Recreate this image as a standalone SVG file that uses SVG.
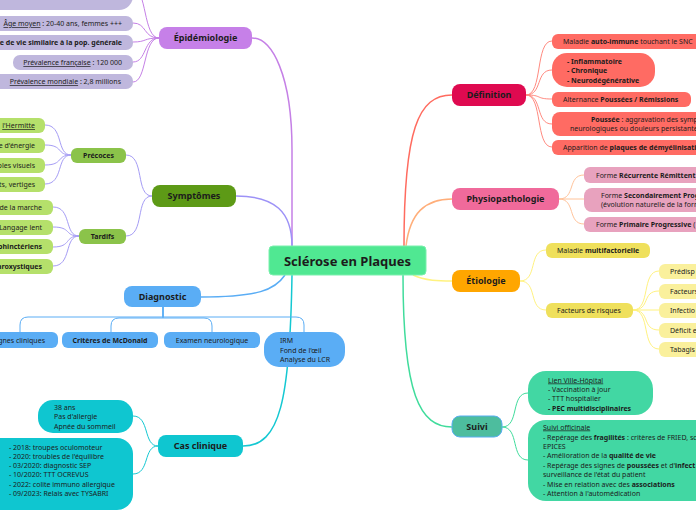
<svg xmlns="http://www.w3.org/2000/svg" width="696" height="520" viewBox="0 0 696 520">
<style>
text{font-family:"Noto Sans","Open Sans","DejaVu Sans",sans-serif;fill:#1c1c1c;font-size:7px}
.m{font-size:9px;font-weight:bold;text-anchor:middle}
.b{font-weight:bold}
.u{text-decoration:underline}
.c{fill:none;stroke-width:1.5}
.s{fill:none;stroke-width:1}
</style>
<rect width="696" height="520" fill="#ffffff"/>
<g id="connectors">
<path class="c" stroke="#c580e6" d="M252,38 C272,38 292,75 292,150 L292,246"/>
<path class="c" stroke="#9d92f7" d="M236,196 C275,196 292,212 292,246"/>
<path class="c" stroke="#5aadf5" d="M201,297 C258,297 275,290 285,275"/>
<path class="c" stroke="#14c8d2" d="M292,275 C290,400 280,446 243,446"/>
<path class="c" stroke="#ff6b5f" d="M404,246 C404,130 418,95 452,95"/>
<path class="c" stroke="#ffae7a" d="M406,246 C410,213 425,199 452,199"/>
<path class="c" stroke="#fff27f" d="M413,275 C425,281 440,281 452,281"/>
<path class="c" stroke="#40dc9c" d="M403,275 C403,395 420,427 452,427"/>
<g stroke="#c580e6">
<path class="s" d="M159,38 C143,38 147,-12 133,-12"/>
<path class="s" d="M159,38 C143,38 147,23 133,23"/>
<path class="s" d="M159,38 C143,38 147,42 133,42"/>
<path class="s" d="M159,38 C143,38 147,62 133,62"/>
<path class="s" d="M159,38 C143,38 147,82 133,82"/>
</g>
<g stroke="#a59cf5">
<path class="s" d="M152,196 C135,196 145,155 126,155"/>
<path class="s" d="M152,196 C135,196 145,236 126,236"/>
<path class="s" d="M71,155 C56,155 64,125 45,125"/>
<path class="s" d="M71,155 C56,155 64,145 45,145"/>
<path class="s" d="M71,155 C56,155 64,165 45,165"/>
<path class="s" d="M71,155 C56,155 64,184 45,184"/>
<path class="s" d="M79,236 C64,236 72,207 53,207"/>
<path class="s" d="M79,236 C64,236 72,227 53,227"/>
<path class="s" d="M79,236 C64,236 72,247 53,247"/>
<path class="s" d="M79,236 C64,236 72,266 53,266"/>
</g>
<g stroke="#5aadf5">
<path class="s" d="M163,307 V317 H28 Q20,317 20,325 V332"/>
<path class="s" d="M163,307 V318 H119 Q111,318 111,326 V332"/>
<path class="s" d="M163,307 V318 H204 Q212,318 212,326 V332"/>
<path class="s" d="M163,307 V317 H296 Q304,317 304,325 V332"/>
</g>
<g stroke="#14c8d2">
<path class="s" d="M158,446 C143,446 150,416 133,416"/>
<path class="s" d="M158,446 C143,446 150,474 133,474"/>
</g>
<g stroke="#ff8a80">
<path class="s" d="M526,95 C543,95 535,41 552,41"/>
<path class="s" d="M526,95 C543,95 535,70 552,70"/>
<path class="s" d="M526,95 C543,95 535,99 552,99"/>
<path class="s" d="M526,95 C543,95 535,124 552,124"/>
<path class="s" d="M526,95 C543,95 535,147 552,147"/>
</g>
<g stroke="#ffc39a">
<path class="s" d="M559,199 C576,199 567,175 584,175"/>
<path class="s" d="M559,199 H584"/>
<path class="s" d="M559,199 C576,199 567,224 584,224"/>
</g>
<g stroke="#fff27f">
<path class="s" d="M520,281 C538,281 528,250 546,250"/>
<path class="s" d="M520,281 C538,281 528,310 546,310"/>
<path class="s" d="M633,310 C651,310 641,271 659,271"/>
<path class="s" d="M633,310 C651,310 641,291 659,291"/>
<path class="s" d="M633,310 H659"/>
<path class="s" d="M633,310 C651,310 641,330 659,330"/>
<path class="s" d="M633,310 C651,310 641,349 659,349"/>
</g>
<g stroke="#40dc9c">
<path class="s" d="M502,427 C520,427 510,393 528,393"/>
<path class="s" d="M502,427 C520,427 510,460 528,460"/>
</g>
</g>

<g id="center">
<rect x="269" y="246" width="157" height="29" rx="4" fill="#50e892" stroke="#7af0ad" stroke-width="1"/>
<text x="347.5" y="265.5" class="m" style="font-size:13px">Sclérose en Plaques</text>
</g>

<g id="epidemiologie">
<rect x="159" y="27" width="93" height="22" rx="8" fill="#c680e8"/>
<text x="205.5" y="41.2" class="m">Épidémiologie</text>
</g>
<g id="epi-top"><rect x="-30" y="-30" width="163" height="40" rx="14" fill="#bfb7dd"/></g>
<g id="epi-age"><rect x="-20" y="16" width="153" height="15" rx="7" fill="#bfb7dd"/>
<text x="122" y="26" text-anchor="end"><tspan class="u">Âge moyen</tspan> : 20-40 ans, femmes +++</text></g>
<g id="epi-esp"><rect x="-20" y="35" width="153" height="15" rx="7" fill="#bfb7dd"/>
<text x="122" y="45" text-anchor="end" class="b">e de vie similaire à la pop. générale</text></g>
<g id="epi-fr"><rect x="13" y="55" width="120" height="15" rx="7" fill="#bfb7dd"/>
<text x="122" y="65" text-anchor="end"><tspan class="u">Prévalence française</tspan> : 120 000</text></g>
<g id="epi-monde"><rect x="-20" y="74" width="153" height="15" rx="7" fill="#bfb7dd"/>
<text x="121" y="84" text-anchor="end"><tspan class="u">Prévalence mondiale</tspan> : 2,8 millions</text></g>

<g id="symptomes">
<rect x="152" y="185" width="84" height="22" rx="8" fill="#5d9a16"/>
<text x="194" y="199.2" class="m">Symptômes</text>
</g>
<g id="precoces"><rect x="71" y="148" width="55" height="15" rx="6" fill="#8bc34a"/>
<text x="98.5" y="158" class="m" style="font-size:7px">Précoces</text></g>
<g id="tardifs"><rect x="79" y="229" width="47" height="15" rx="6" fill="#8bc34a"/>
<text x="102.5" y="239" class="m" style="font-size:7px">Tardifs</text></g>
<g id="p1"><rect x="-20" y="118" width="65" height="15" rx="6" fill="#b5e06b"/>
<text x="35" y="128" text-anchor="end" class="u">l'Hermitte</text></g>
<g id="p2"><rect x="-20" y="138" width="65" height="15" rx="6" fill="#b5e06b"/>
<text x="35" y="148" text-anchor="end">e d'énergie</text></g>
<g id="p3"><rect x="-20" y="158" width="65" height="15" rx="6" fill="#b5e06b"/>
<text x="35" y="168" text-anchor="end">bles visuels</text></g>
<g id="p4"><rect x="-20" y="177" width="65" height="15" rx="6" fill="#b5e06b"/>
<text x="35" y="187" text-anchor="end">ts, vertiges</text></g>
<g id="t1"><rect x="-20" y="200" width="73" height="15" rx="6" fill="#b5e06b"/>
<text x="42" y="210" text-anchor="end">de la marche</text></g>
<g id="t2"><rect x="-20" y="220" width="73" height="15" rx="6" fill="#b5e06b"/>
<text x="42" y="230" text-anchor="end">Langage lent</text></g>
<g id="t3"><rect x="-20" y="239" width="73" height="15" rx="6" fill="#b5e06b"/>
<text x="42" y="249" text-anchor="end" class="b">phinctériens</text></g>
<g id="t4"><rect x="-20" y="259" width="73" height="15" rx="6" fill="#b5e06b"/>
<text x="42" y="269" text-anchor="end" class="b">aroxystiques</text></g>

<g id="diagnostic">
<rect x="124" y="286" width="77" height="21" rx="8" fill="#5aadf5"/>
<text x="162.5" y="299.8" class="m">Diagnostic</text>
</g>
<g id="d1"><rect x="-20" y="332" width="78" height="16" rx="6" fill="#5aadf5"/>
<text x="45" y="342.5" text-anchor="end">gnes cliniques</text></g>
<g id="d2"><rect x="62" y="332" width="96" height="16" rx="6" fill="#5aadf5"/>
<text x="110" y="342.5" text-anchor="middle" class="b">Critères de McDonald</text></g>
<g id="d3"><rect x="164" y="332" width="96" height="16" rx="6" fill="#5aadf5"/>
<text x="212" y="342.5" text-anchor="middle">Examen neurologique</text></g>
<g id="d4"><rect x="264" y="332" width="81" height="35" rx="15" fill="#5aadf5"/>
<text x="280" y="343">IRM</text>
<text x="280" y="352.5">Fond de l'œil</text>
<text x="280" y="362">Analyse du LCR</text></g>

<g id="cas">
<rect x="158" y="435" width="85" height="22" rx="8" fill="#0fc6d0"/>
<text x="200.5" y="449.2" class="m">Cas clinique</text>
</g>
<g id="c1"><rect x="38" y="400" width="95" height="33" rx="15" fill="#0fc6d0"/>
<text x="54" y="409.5">38 ans</text>
<text x="54" y="419">Pas d'allergie</text>
<text x="54" y="428.5">Apnée du sommeil</text></g>
<g id="c2"><rect x="-20" y="438" width="153" height="72" rx="16" fill="#0fc6d0"/>
<text x="9" y="449.5">- 2018: troupes oculomoteur</text>
<text x="9" y="458.5">- 2020: troubles de l'équilibre</text>
<text x="9" y="467.5">- 03/2020: diagnostic SEP</text>
<text x="9" y="476.5">- 10/2020: TTT OCREVUS</text>
<text x="9" y="486.5">- 2022: colite immuno allergique</text>
<text x="9" y="495.5">- 09/2023: Relais avec TYSABRI</text></g>

<g id="definition">
<rect x="452" y="84" width="74" height="22" rx="8" fill="#df0a50"/>
<text x="489" y="98.2" class="m">Définition</text>
</g>
<g id="def1"><rect x="552" y="34" width="160" height="15" rx="6" fill="#ff6b63"/>
<text x="563" y="44">Maladie <tspan class="b">auto-immune</tspan> touchant le SNC</text></g>
<g id="def2"><rect x="552" y="53" width="103" height="34" rx="15" fill="#ff6b63"/>
<text x="567" y="63.5" class="b">- Inflammatoire</text>
<text x="567" y="73" class="b">- Chronique</text>
<text x="567" y="82.5" class="b">- Neurodégénérative</text></g>
<g id="def3"><rect x="552" y="92" width="139" height="15" rx="6" fill="#ff6b63"/>
<text x="563" y="102">Alternance <tspan class="b">Poussées / Rémissions</tspan></text></g>
<g id="def4"><rect x="552" y="112" width="160" height="24" rx="8" fill="#ff6b63"/>
<text x="591" y="121.5"><tspan class="b">Poussée</tspan> : aggravation des symp</text>
<text x="570" y="130.5">neurologiques ou douleurs persistante</text></g>
<g id="def5"><rect x="552" y="140" width="160" height="15" rx="6" fill="#ff6b63"/>
<text x="563" y="150">Apparition de <tspan class="b">plaques de démyélinisati</tspan></text></g>

<g id="physio">
<rect x="452" y="188" width="107" height="22" rx="8" fill="#f06a9b"/>
<text x="505.5" y="202.2" class="m">Physiopathologie</text>
</g>
<g id="ph1"><rect x="584" y="167" width="130" height="16" rx="6" fill="#e8a2be"/>
<text x="596" y="177.5">Forme <tspan class="b">Récurrente Rémittent</tspan></text></g>
<g id="ph2"><rect x="584" y="188" width="130" height="24" rx="8" fill="#e8a2be"/>
<text x="601" y="197.5">Forme <tspan class="b">Secondairement Prog</tspan></text>
<text x="601" y="206.5">(évolution naturelle de la form</text></g>
<g id="ph3"><rect x="584" y="217" width="130" height="15" rx="6" fill="#e8a2be"/>
<text x="596" y="227">Forme <tspan class="b">Primaire Progressive</tspan> (</text></g>

<g id="etiologie">
<rect x="452" y="270" width="68" height="22" rx="8" fill="#ffa600"/>
<text x="486" y="284.2" class="m">Étiologie</text>
</g>
<g id="e1"><rect x="546" y="243" width="104" height="15" rx="6" fill="#efe05c"/>
<text x="557" y="253">Maladie <tspan class="b">multifactorielle</tspan></text></g>
<g id="e2"><rect x="546" y="303" width="87" height="15" rx="6" fill="#efe05c"/>
<text x="557" y="313">Facteurs de risques</text></g>
<g id="f1"><rect x="659" y="264" width="60" height="15" rx="6" fill="#faf09c"/>
<text x="670" y="274">Prédisp</text></g>
<g id="f2"><rect x="659" y="284" width="60" height="15" rx="6" fill="#faf09c"/>
<text x="670" y="294">Facteurs</text></g>
<g id="f3"><rect x="659" y="303" width="60" height="15" rx="6" fill="#faf09c"/>
<text x="670" y="313">Infectio</text></g>
<g id="f4"><rect x="659" y="323" width="60" height="15" rx="6" fill="#faf09c"/>
<text x="670" y="333">Déficit e</text></g>
<g id="f5"><rect x="659" y="342" width="60" height="15" rx="6" fill="#faf09c"/>
<text x="670" y="352">Tabagis</text></g>

<g id="suivi">
<rect x="452" y="416" width="50" height="21" rx="8" fill="#4dbd9e" stroke="#58aef0" stroke-width="1"/>
<text x="477" y="429.8" class="m">Suivi</text>
</g>
<g id="s1"><rect x="528" y="371" width="125" height="44" rx="18" fill="#42d7a3"/>
<text x="548" y="382.5" class="u">Lien Ville-Hôpital</text>
<text x="548" y="391.5">- Vaccination à jour</text>
<text x="548" y="400.5">- TTT hospitalier</text>
<text x="548" y="410.5" class="b">- PEC multidisciplinaires</text></g>
<g id="s2"><rect x="528" y="420" width="190" height="81" rx="18" fill="#42d7a3"/>
<text x="543" y="429.5" class="u">Suivi officinale</text>
<text x="543" y="439.5">- Repérage des <tspan class="b">fragilités</tspan> : critères de FRIED, sc</text>
<text x="543" y="448.5">EPICES</text>
<text x="543" y="457.5">- Amélioration de la <tspan class="b">qualité de vie</tspan></text>
<text x="543" y="467.5">- Repérage des signes de <tspan class="b">poussées</tspan> et d'<tspan class="b">infect</tspan></text>
<text x="543" y="476.5">surveillance de l'état du patient</text>
<text x="543" y="486.5">- Mise en relation avec des <tspan class="b">associations</tspan></text>
<text x="543" y="495.5">- Attention à l'automédication</text></g>
</svg>
